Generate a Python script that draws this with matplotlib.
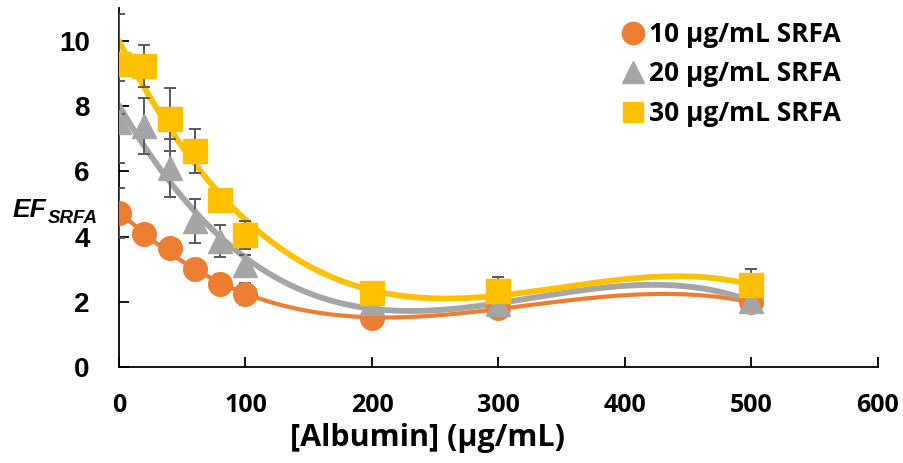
import numpy as np
import matplotlib
matplotlib.use("Agg")
import matplotlib.pyplot as plt
from matplotlib.lines import Line2D

# ---- data ----
albumin = [0, 20, 40, 60, 80, 100, 200, 300, 500]
ef_10 = [4.73, 4.07, 3.65, 3.00, 2.54, 2.24, 1.50, 1.80, 1.98]
ef_20 = [7.52, 7.39, 6.10, 4.48, 3.87, 3.13, 1.95, 1.92, 2.02]
ef_30 = [9.29, 9.23, 7.60, 6.63, 5.12, 4.05, 2.26, 2.33, 2.51]
err_10 = [0.76, 0.25, 0.25, 0.25, 0.30, 0.33, 0.15, 0.30, 0.20]
err_20 = [1.26, 0.85, 0.90, 0.67, 0.50, 0.30, 0.20, 0.20, 0.20]
err_30 = [1.54, 0.65, 0.96, 0.67, 0.30, 0.43, 0.30, 0.43, 0.50]
labels = ['10 µg/mL SRFA', '20 µg/mL SRFA', '30 µg/mL SRFA']
x_ticks = [0, 100, 200, 300, 400, 500, 600]
y_ticks = [0, 2, 4, 6, 8, 10]

colors = ['#ED7D31', '#A5A5A5', '#FFC000']
markers = ['o', '^', 's']
msizes = [17, 17, 17]
lws = [3.0, 4.2, 4.2]
calib = ['Open Sans', 'DejaVu Sans']

fig = plt.figure(figsize=(9.04, 4.63), dpi=100)
ax = fig.add_axes([0.1316, 0.2073, 0.8396, 0.7746])

xa = np.asarray(albumin, dtype=float)
xs = np.linspace(0, 500, 300)
series = [(ef_10, err_10), (ef_20, err_20), (ef_30, err_30)]

# 3rd-order polynomial trendlines
for (ys, _), c, lw in zip(series, colors, lws):
    coef = np.polyfit(xa, ys, 3)
    ax.plot(xs, np.polyval(coef, xs), color=c, lw=lw, solid_capstyle='round', zorder=2)

for (ys, es), c, m, ms in zip(series, colors, markers, msizes):
    ax.errorbar(albumin, ys, yerr=es, fmt='none', ecolor='#595959', elinewidth=1.4,
                capsize=4.5, capthick=1.4, zorder=3)
    ax.plot(albumin, ys, ls='none', marker=m, ms=ms, color=c, mec=c, zorder=4)

ax.set_xlim(0, 600)
ax.set_ylim(0, 11)
ax.set_xticks(x_ticks)
ax.set_yticks(y_ticks)
for s in ['top', 'right']:
    ax.spines[s].set_visible(False)
for s in ['left', 'bottom']:
    ax.spines[s].set_linewidth(1.3)
ax.tick_params(direction='in', length=7, width=1.3)
ax.tick_params(axis='y', pad=21)
ax.tick_params(axis='x', pad=19)
for t in ax.get_yticklabels():
    t.set_fontfamily('Liberation Sans')
    t.set_fontweight('bold')
    t.set_fontsize(20)
for t in ax.get_xticklabels():
    t.set_fontfamily(calib)
    t.set_fontweight('bold')
    t.set_fontsize(18)

ax.set_xlabel('[Albumin] (µg/mL)', fontfamily=calib, fontweight='bold', fontsize=22)
ax.xaxis.set_label_coords(0.406, -0.155)
ax.xaxis.label.set_va('top')

fig.text(13 / 904, 1 - 217 / 463, 'EF', fontfamily='Liberation Sans', fontweight='bold',
         fontstyle='italic', fontsize=19, va='baseline')
fig.text(48 / 904, 1 - 223 / 463, 'SRFA', fontfamily='Liberation Sans', fontweight='bold',
         fontstyle='italic', fontsize=13.5, va='baseline')

handles = [Line2D([], [], ls='none', marker=m, ms=s, color=c, mec=c)
           for m, c, s in zip(markers, colors, [16, 16, 14])]
leg = fig.legend(handles, labels, loc='upper left', bbox_to_anchor=(624 / 904, 1 - 21 / 463),
                 frameon=False, borderpad=0, borderaxespad=0, handlelength=0.7,
                 handletextpad=0.25, labelspacing=0.47,
                 prop={'family': calib, 'weight': 'bold', 'size': 19})

fig.savefig('out.png', dpi=100)
